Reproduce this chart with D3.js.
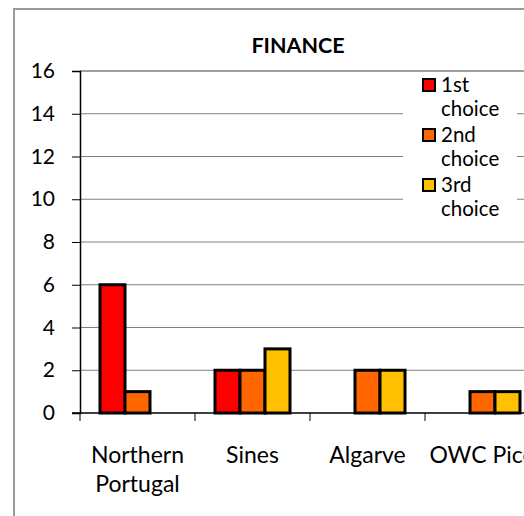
<!DOCTYPE html>
<html>
<head>
<meta charset="utf-8">
<script src="https://cdn.jsdelivr.net/npm/d3@7"></script>
<style>
  body { margin: 0; background: #fff; overflow: hidden; }
  svg { display: block; font-family: Lato, "Open Sans", sans-serif; }
</style>
</head>
<body>
<svg width="524" height="516"></svg>
<script>
// Chart data
const categories = ["Northern Portugal", "Sines", "Algarve", "OWC Pico"];
const seriesNames = ["1st choice", "2nd choice", "3rd choice"];
const firstChoice = [6, 2, 0, 0];
const secondChoice = [1, 2, 2, 1];
const thirdChoice = [0, 3, 2, 1];
const yTicks = [0, 2, 4, 6, 8, 10, 12, 14, 16];

const colors = ["#ff0000", "#ff6600", "#ffc000"];
const values = [firstChoice, secondChoice, thirdChoice];

let margin = { left: 80, top: 71, bottom: 103 };
let svg = d3.select('svg');

// outer chart border (cut off on right and bottom)
svg.append('rect')
  .attr('x', 14).attr('y', 9)
  .attr('width', 600).attr('height', 600)
  .attr('fill', 'none')
  .attr('stroke', '#9a9a9a')
  .attr('stroke-width', 2);

let x0 = d3.scaleBand()
  .domain(categories)
  .range([margin.left, margin.left + 460]);

let x1 = d3.scaleBand()
  .domain(seriesNames)
  .range([0, x0.bandwidth()])
  .paddingOuter(0.8);

let y = d3.scaleLinear()
  .domain([0, 16])
  .range([413, margin.top]);

// gridlines
svg.append('g')
  .selectAll('line')
  .data(yTicks.filter(d => d > 0))
  .enter()
  .append('line')
  .attr('x1', margin.left).attr('x2', 524)
  .attr('y1', d => y(d)).attr('y2', d => y(d))
  .attr('stroke', d => d === 16 ? '#a0a0a0' : '#808080')
  .attr('stroke-width', d => d === 16 ? 2 : 1);

// bars
let groups = svg.append('g')
  .selectAll('g')
  .data(categories)
  .enter()
  .append('g')
  .attr('transform', d => `translate(${x0(d)},0)`);

groups.selectAll('rect')
  .data((c, i) => seriesNames.map((s, j) => ({ s: s, v: values[j][i], color: colors[j] })).filter(d => d.v > 0))
  .enter()
  .append('rect')
  .attr('x', d => x1(d.s))
  .attr('y', d => y(d.v))
  .attr('width', x1.bandwidth())
  .attr('height', d => y(0) - y(d.v))
  .attr('fill', d => d.color)
  .attr('stroke', '#000')
  .attr('stroke-width', 3);

// y axis
let yAxis = d3.axisLeft(y).tickValues(yTicks).tickSize(8).tickPadding(17);
let gy = svg.append('g')
  .attr('transform', `translate(${margin.left},0)`)
  .call(yAxis);
gy.select('.domain').attr('stroke', '#000').attr('stroke-width', 1.5);
gy.selectAll('.tick line').attr('stroke', '#000');
gy.selectAll('text')
  .attr('font-size', 21)
  .attr('fill', '#000')
  .style('font-family', 'Lato, sans-serif');

// x axis
let gx = svg.append('g');
gx.append('line')
  .attr('x1', margin.left - 8).attr('x2', 524)
  .attr('y1', y(0)).attr('y2', y(0))
  .attr('stroke', '#000').attr('stroke-width', 1.5);
gx.selectAll('.xtick')
  .data(categories)
  .enter()
  .append('line')
  .attr('class', 'xtick')
  .attr('x1', d => x0(d)).attr('x2', d => x0(d))
  .attr('y1', y(0)).attr('y2', y(0) + 8)
  .attr('stroke', '#000');

let labels = gx.selectAll('.xlabel')
  .data(categories)
  .enter()
  .append('text')
  .attr('class', 'xlabel')
  .attr('text-anchor', 'middle')
  .attr('font-size', 23)
  .attr('fill', '#000');

labels.each(function (d) {
  let t = d3.select(this);
  let lines = d === "Northern Portugal" ? ["Northern", "Portugal"] : [d];
  lines.forEach((l, i) => {
    t.append('tspan')
      .attr('x', x0(d) + x0.bandwidth() / 2)
      .attr('y', 463 + i * 29)
      .text(l);
  });
});

// title
svg.append('text')
  .text('FINANCE')
  .attr('x', 298)
  .attr('y', 53)
  .attr('text-anchor', 'middle')
  .attr('font-size', 21.5)
  .attr('font-weight', 'bold');

// legend
let legend = svg.append('g').attr('transform', 'translate(403,74)');
legend.append('rect')
  .attr('x', 0).attr('y', 0)
  .attr('width', 114).attr('height', 150)
  .attr('fill', '#fff');

let items = legend.selectAll('g')
  .data(seriesNames)
  .enter()
  .append('g')
  .attr('transform', (d, i) => `translate(0,${i * 50})`);

items.append('rect')
  .attr('x', 20).attr('y', 5)
  .attr('width', 12).attr('height', 12)
  .attr('fill', (d, i) => colors[i])
  .attr('stroke', '#000')
  .attr('stroke-width', 2);

items.append('text')
  .attr('font-size', 20.5)
  .selectAll('tspan')
  .data(d => d.split(' '))
  .enter()
  .append('tspan')
  .attr('x', 38)
  .attr('y', (d, i) => 18 + i * 24)
  .text(d => d);
</script>
</body>
</html>
